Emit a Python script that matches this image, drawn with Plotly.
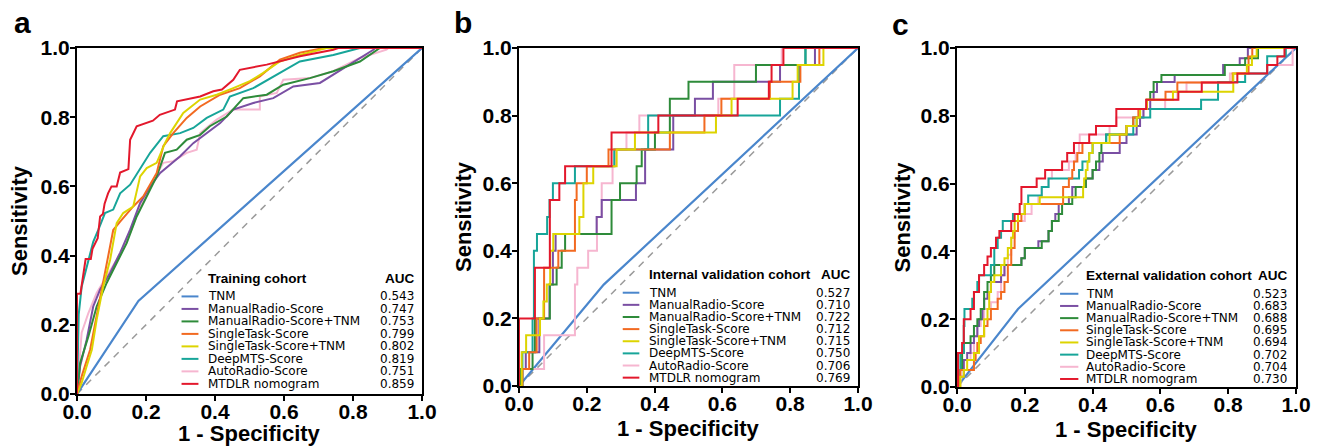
import plotly.graph_objects as go

# ---------------- data ----------------
models = ["TNM", "ManualRadio-Score", "ManualRadio-Score+TNM", "SingleTask-Score",
          "SingleTask-Score+TNM", "DeepMTS-Score", "AutoRadio-Score", "MTDLR nomogram"]
colors = ["#4a86cc", "#7a4fa3", "#2e8b3a", "#f26a21", "#ddd400", "#17a599", "#f6b6d0", "#e3182c"]

cohort_titles = ["Training cohort", "Internal validation cohort", "External validation cohort"]
panel_letters = ["a", "b", "c"]
auc_train = ["0.543", "0.747", "0.753", "0.799", "0.802", "0.819", "0.751", "0.859"]
auc_internal = ["0.527", "0.710", "0.722", "0.712", "0.715", "0.750", "0.706", "0.769"]
auc_external = ["0.523", "0.683", "0.688", "0.695", "0.694", "0.702", "0.704", "0.730"]
tick_vals = [0.0, 0.2, 0.4, 0.6, 0.8, 1.0]
tick_text = ["0.0", "0.2", "0.4", "0.6", "0.8", "1.0"]

# ---- training cohort (fpr, tpr) ----
a_tnm = [(0, 0), (0.178, 0.269), (1, 1)]
a_manual = [(0, 0), (0.009, 0.08), (0.028, 0.157), (0.047, 0.253), (0.067, 0.302), (0.096, 0.35),
            (0.125, 0.408), (0.154, 0.475), (0.183, 0.552), (0.212, 0.6), (0.241, 0.639), (0.27, 0.663),
            (0.299, 0.687), (0.337, 0.725), (0.376, 0.754), (0.415, 0.783), (0.453, 0.822), (0.511, 0.841),
            (0.569, 0.855), (0.627, 0.889), (0.704, 0.899), (0.743, 0.923), (0.801, 0.957), (0.859, 0.995),
            (0.864, 1.0), (1, 1)]
a_manual_tnm = [(0, 0), (0.009, 0.09), (0.033, 0.166), (0.057, 0.253), (0.086, 0.321), (0.115, 0.379),
                (0.144, 0.436), (0.173, 0.513), (0.202, 0.571), (0.231, 0.629), (0.255, 0.697), (0.289, 0.706),
                (0.318, 0.735), (0.357, 0.749), (0.385, 0.774), (0.434, 0.802), (0.482, 0.855), (0.55, 0.865),
                (0.598, 0.894), (0.675, 0.913), (0.743, 0.933), (0.82, 0.961), (0.878, 1.0), (1, 1)]
a_single = [(0, 0), (0.0135, 0.051), (0.038, 0.128), (0.067, 0.273), (0.086, 0.378), (0.105, 0.474),
            (0.125, 0.498), (0.163, 0.542), (0.192, 0.571), (0.231, 0.639), (0.25, 0.716), (0.279, 0.754),
            (0.318, 0.798), (0.357, 0.831), (0.415, 0.865), (0.472, 0.884), (0.53, 0.918), (0.588, 0.966),
            (0.646, 0.986), (0.714, 1.0), (1, 1)]
a_single_tnm = [(0, 0), (0.0135, 0.032), (0.028, 0.08), (0.043, 0.128), (0.057, 0.215), (0.076, 0.311),
                (0.096, 0.388), (0.115, 0.494), (0.134, 0.523), (0.163, 0.542), (0.183, 0.629), (0.202, 0.653),
                (0.231, 0.668), (0.255, 0.725), (0.27, 0.754), (0.308, 0.812), (0.357, 0.851), (0.405, 0.865),
                (0.453, 0.884), (0.501, 0.904), (0.54, 0.928), (0.588, 0.961), (0.646, 0.98), (0.724, 1.0), (1, 1)]
a_deepmts = [(0, 0), (0.005, 0.23), (0.0135, 0.31), (0.033, 0.39), (0.047, 0.44), (0.062, 0.475),
             (0.081, 0.523), (0.105, 0.533), (0.125, 0.58), (0.154, 0.605), (0.183, 0.653), (0.212, 0.697),
             (0.25, 0.745), (0.299, 0.754), (0.337, 0.769), (0.376, 0.798), (0.424, 0.822), (0.443, 0.86),
             (0.511, 0.884), (0.569, 0.918), (0.646, 0.961), (0.743, 0.98), (0.82, 1.0), (1, 1)]
a_auto = [(0, 0), (0.004, 0.06), (0.0135, 0.177), (0.033, 0.234), (0.057, 0.292), (0.086, 0.34),
          (0.115, 0.388), (0.154, 0.465), (0.183, 0.542), (0.212, 0.6), (0.25, 0.668), (0.279, 0.673),
          (0.318, 0.697), (0.347, 0.706), (0.357, 0.754), (0.405, 0.793), (0.453, 0.822), (0.53, 0.822),
          (0.53, 0.86), (0.579, 0.87), (0.598, 0.908), (0.675, 0.913), (0.743, 0.933), (0.82, 0.971),
          (0.897, 0.995), (0.902, 1.0), (1, 1)]
a_mtdlr = [(0, 0), (0, 0.29), (0.01, 0.29), (0.02, 0.35), (0.025, 0.39), (0.04, 0.39), (0.045, 0.42),
           (0.06, 0.45), (0.067, 0.513), (0.075, 0.52), (0.08, 0.55), (0.09, 0.58), (0.1, 0.6), (0.115, 0.6),
           (0.12, 0.62), (0.125, 0.64), (0.149, 0.65), (0.154, 0.735), (0.173, 0.774), (0.19, 0.78),
           (0.22, 0.79), (0.24, 0.807), (0.284, 0.822), (0.29, 0.846), (0.357, 0.86), (0.395, 0.875),
           (0.42, 0.88), (0.453, 0.908), (0.472, 0.937), (0.55, 0.952), (0.646, 0.976), (0.743, 0.995),
           (0.757, 1.0), (1, 1)]

# ---- internal validation cohort (step points: fpr where tpr rises, new tpr) ----
b_tnm = [(0, 0), (0.25, 0.3), (1, 1)]
b_manual = [(0, 0), (0.01, 0.05), (0.02, 0.1), (0.06, 0.2), (0.09, 0.3), (0.1, 0.4), (0.108, 0.45),
            (0.229, 0.5), (0.244, 0.55), (0.345, 0.6), (0.372, 0.7), (0.455, 0.8), (0.519, 0.85),
            (0.572, 0.9), (0.77, 0.95), (0.873, 1.0), (1, 1)]
b_manual_tnm = [(0, 0), (0.005, 0.05), (0.04, 0.1), (0.047, 0.2), (0.091, 0.3), (0.111, 0.35),
                (0.126, 0.4), (0.136, 0.45), (0.273, 0.55), (0.298, 0.6), (0.347, 0.65), (0.362, 0.7),
                (0.401, 0.75), (0.445, 0.85), (0.5, 0.9), (0.699, 0.95), (0.845, 1.0), (1, 1)]
b_single = [(0, 0), (0.01, 0.05), (0.03, 0.1), (0.052, 0.2), (0.074, 0.35), (0.116, 0.4), (0.165, 0.55),
            (0.17, 0.6), (0.2, 0.65), (0.264, 0.7), (0.445, 0.75), (0.547, 0.8), (0.597, 0.85),
            (0.74, 0.9), (0.83, 0.95), (0.886, 1.0), (1, 1)]
b_single_tnm = [(0, 0), (0.008, 0.1), (0.021, 0.15), (0.062, 0.2), (0.072, 0.25), (0.082, 0.3),
                (0.092, 0.4), (0.101, 0.45), (0.178, 0.5), (0.19, 0.6), (0.219, 0.65), (0.288, 0.7),
                (0.342, 0.75), (0.581, 0.8), (0.627, 0.85), (0.807, 0.9), (0.822, 0.95), (0.898, 1.0), (1, 1)]
b_deepmts = [(0, 0), (0.01, 0.1), (0.04, 0.2), (0.044, 0.4), (0.053, 0.45), (0.083, 0.5), (0.09, 0.55),
             (0.1, 0.6), (0.165, 0.65), (0.281, 0.7), (0.381, 0.8), (0.77, 0.85), (0.826, 0.95),
             (0.845, 1.0), (1, 1)]
b_auto = [(0, 0), (0.008, 0.05), (0.074, 0.15), (0.165, 0.3), (0.172, 0.35), (0.204, 0.4), (0.23, 0.5),
          (0.244, 0.6), (0.276, 0.65), (0.283, 0.7), (0.317, 0.75), (0.355, 0.8), (0.588, 0.85),
          (0.635, 0.95), (0.775, 1.0), (1, 1)]
b_mtdlr = [(0, 0), (0, 0.2), (0.047, 0.35), (0.091, 0.55), (0.119, 0.6), (0.136, 0.65), (0.273, 0.75),
           (0.411, 0.8), (0.645, 0.85), (0.737, 0.9), (0.745, 0.95), (0.78, 1.0), (1, 1)]

# ---- external validation cohort (step points) ----
c_tnm = [(0, 0), (0.18, 0.23), (1, 1)]
c_manual = [(0, 0), (0.005, 0.03), (0.02, 0.08), (0.03, 0.1), (0.04, 0.13), (0.05, 0.15), (0.06, 0.18),
            (0.065, 0.2), (0.075, 0.23), (0.08, 0.26), (0.09, 0.28), (0.1, 0.31), (0.13, 0.33), (0.14, 0.36),
            (0.19, 0.38), (0.2, 0.41), (0.24, 0.43), (0.27, 0.46), (0.28, 0.49), (0.29, 0.51), (0.3, 0.54),
            (0.33, 0.56), (0.34, 0.59), (0.38, 0.615), (0.4, 0.64), (0.42, 0.665), (0.43, 0.69),
            (0.48, 0.72), (0.5, 0.745), (0.53, 0.77), (0.54, 0.795), (0.55, 0.82), (0.57, 0.847),
            (0.58, 0.87), (0.59, 0.9), (0.642, 0.92), (0.785, 0.95), (0.834, 0.97), (0.858, 1.0), (1, 1)]
c_manual_tnm = [(0, 0), (0.005, 0.05), (0.015, 0.1), (0.02, 0.13), (0.04, 0.15), (0.05, 0.18), (0.06, 0.2),
                (0.07, 0.23), (0.08, 0.28), (0.09, 0.31), (0.1, 0.33), (0.11, 0.36), (0.19, 0.38),
                (0.2, 0.41), (0.25, 0.43), (0.27, 0.46), (0.28, 0.49), (0.3, 0.51), (0.31, 0.54),
                (0.34, 0.56), (0.35, 0.59), (0.38, 0.615), (0.4, 0.64), (0.41, 0.665), (0.42, 0.69),
                (0.426, 0.72), (0.44, 0.745), (0.5, 0.77), (0.52, 0.795), (0.54, 0.82), (0.56, 0.847),
                (0.57, 0.87), (0.58, 0.9), (0.603, 0.92), (0.79, 0.95), (0.85, 0.97), (0.888, 1.0), (1, 1)]
c_single = [(0, 0), (0.005, 0.03), (0.01, 0.05), (0.05, 0.08), (0.055, 0.1), (0.06, 0.13), (0.07, 0.15),
            (0.08, 0.18), (0.09, 0.2), (0.1, 0.23), (0.12, 0.26), (0.13, 0.28), (0.14, 0.31), (0.15, 0.36),
            (0.16, 0.41), (0.17, 0.46), (0.18, 0.49), (0.19, 0.51), (0.2, 0.54), (0.313, 0.59),
            (0.33, 0.615), (0.34, 0.64), (0.345, 0.665), (0.355, 0.69), (0.37, 0.72), (0.48, 0.745),
            (0.5, 0.77), (0.52, 0.795), (0.535, 0.82), (0.56, 0.847), (0.615, 0.871), (0.65, 0.898),
            (0.813, 0.925), (0.86, 0.975), (0.871, 1.0), (1, 1)]
c_single_tnm = [(0, 0), (0.01, 0.03), (0.02, 0.05), (0.03, 0.08), (0.05, 0.1), (0.065, 0.15), (0.08, 0.2),
                (0.09, 0.23), (0.095, 0.28), (0.1, 0.31), (0.11, 0.33), (0.13, 0.36), (0.14, 0.38),
                (0.15, 0.41), (0.16, 0.44), (0.165, 0.46), (0.17, 0.49), (0.18, 0.51), (0.2, 0.54),
                (0.244, 0.56), (0.372, 0.59), (0.375, 0.615), (0.38, 0.64), (0.385, 0.665), (0.39, 0.69),
                (0.4, 0.72), (0.45, 0.745), (0.5, 0.77), (0.53, 0.795), (0.54, 0.82), (0.56, 0.847),
                (0.637, 0.871), (0.815, 0.925), (0.855, 0.95), (0.87, 0.976), (0.884, 1.0), (1, 1)]
c_deepmts = [(0, 0), (0.005, 0.05), (0.01, 0.1), (0.02, 0.18), (0.022, 0.23), (0.045, 0.26), (0.05, 0.28),
             (0.06, 0.31), (0.065, 0.33), (0.1, 0.36), (0.11, 0.41), (0.12, 0.44), (0.13, 0.46),
             (0.135, 0.49), (0.165, 0.51), (0.2, 0.54), (0.21, 0.565), (0.25, 0.59), (0.27, 0.615),
             (0.36, 0.64), (0.37, 0.665), (0.39, 0.69), (0.4, 0.72), (0.44, 0.745), (0.52, 0.77),
             (0.53, 0.795), (0.57, 0.82), (0.72, 0.847), (0.77, 0.9), (0.85, 0.925), (0.915, 0.976),
             (0.97, 1.0), (1, 1)]
c_auto = [(0, 0), (0.01, 0.05), (0.02, 0.08), (0.04, 0.1), (0.05, 0.15), (0.06, 0.18), (0.07, 0.2),
          (0.08, 0.23), (0.1, 0.25), (0.12, 0.28), (0.13, 0.33), (0.14, 0.36), (0.15, 0.39), (0.16, 0.44),
          (0.17, 0.46), (0.18, 0.49), (0.2, 0.51), (0.22, 0.54), (0.24, 0.56), (0.25, 0.59),
          (0.27, 0.615), (0.28, 0.64), (0.33, 0.665), (0.35, 0.69), (0.36, 0.72), (0.362, 0.745),
          (0.45, 0.77), (0.47, 0.795), (0.55, 0.82), (0.614, 0.847), (0.65, 0.871), (0.677, 0.898),
          (0.805, 0.925), (0.915, 0.95), (0.99, 1.0), (1, 1)]
c_mtdlr = [(0, 0), (0.003, 0.1), (0.015, 0.13), (0.02, 0.2), (0.04, 0.23), (0.05, 0.28), (0.065, 0.33),
           (0.08, 0.36), (0.09, 0.385), (0.1, 0.41), (0.115, 0.44), (0.125, 0.46), (0.16, 0.49),
           (0.17, 0.51), (0.185, 0.54), (0.19, 0.59), (0.235, 0.615), (0.26, 0.64), (0.31, 0.665),
           (0.325, 0.69), (0.345, 0.72), (0.39, 0.745), (0.41, 0.77), (0.47, 0.82), (0.558, 0.847),
           (0.653, 0.871), (0.722, 0.898), (0.827, 0.925), (0.915, 0.95), (0.945, 0.975), (0.966, 1.0), (1, 1)]

panels = [
    ([a_tnm, a_manual, a_manual_tnm, a_single, a_single_tnm, a_deepmts, a_auto, a_mtdlr], auc_train, "linear"),
    ([b_tnm, b_manual, b_manual_tnm, b_single, b_single_tnm, b_deepmts, b_auto, b_mtdlr], auc_internal, "hv"),
    ([c_tnm, c_manual, c_manual_tnm, c_single, c_single_tnm, c_deepmts, c_auto, c_mtdlr], auc_external, "hv"),
]

# ---------------- layout geometry (screen pixels of the 1322x448 window) ----------------
W, H = 1322, 448


def px(xp):
    return xp / W


def py(yp):
    return 1 - yp / H


plot_boxes = [(77, 422, 48, 394), (519, 858, 48, 386), (957, 1296, 48, 387)]  # x0,x1,ytop,ybottom
letter_pos = [(22, 23), (463, 22), (900, 24)]
ytitle_x = [19, 463, 902]
xtitle_y = [433, 428, 429]
legend_geo = [  # header y, first entry y, step, line x0, line x1, text x, right x
    (0.335, 0.282, 0.0361, 0.303, 0.352, 0.375, 0.983),
    (0.331, 0.276, 0.0359, 0.306, 0.355, 0.377, 0.983),
    (0.329, 0.275, 0.0359, 0.304, 0.358, 0.375, 0.980),
]

fig = go.Figure()
FONT = "Liberation Sans, Arial, sans-serif"
LFONT = "DejaVu Sans, sans-serif"
annotations = []
shapes = []

for p, (curves, aucs, shape) in enumerate(panels):
    sfx = "" if p == 0 else str(p + 1)
    xa, ya = "x" + sfx, "y" + sfx
    # reference diagonal
    fig.add_trace(go.Scatter(x=[0, 1], y=[0, 1], mode="lines", xaxis=xa, yaxis=ya,
                             line=dict(color="#9a9a9a", width=1.5, dash="7px,6px"), hoverinfo="skip"))
    order = [0, 6, 1, 2, 5, 3, 4, 7]
    for i in order:
        pts = curves[i]
        fig.add_trace(go.Scatter(
            x=[q[0] for q in pts], y=[q[1] for q in pts], mode="lines", name=models[i],
            xaxis=xa, yaxis=ya,
            line=dict(color=colors[i], width=2.2 if i == 0 else 2,
                      shape="linear" if i == 0 else shape)))
    x0, x1, yt, yb = plot_boxes[p]
    dom_x = [px(x0), px(x1)]
    dom_y = [py(yb), py(yt)]
    axis_common = dict(range=[0, 1], showline=True, linewidth=2.2, linecolor="black", mirror=True,
                       ticks="outside", ticklen=5, tickwidth=2, tickcolor="black", automargin=False,
                       tickvals=tick_vals, ticktext=tick_text, showgrid=False, zeroline=False,
                       tickfont=dict(family=FONT, size=21, color="black", weight="bold"))
    fig.layout["xaxis" + sfx] = dict(domain=dom_x, anchor=ya, ticklabelstandoff=-7, **axis_common)
    fig.layout["yaxis" + sfx] = dict(domain=dom_y, anchor=xa, ticklabelstandoff=-4, **axis_common)

    # axis titles
    annotations.append(dict(text="<b>1 - Specificity</b>", xref="paper", yref="paper",
                            x=px((x0 + x1) / 2), y=py(xtitle_y[p]), xanchor="center", yanchor="middle",
                            showarrow=False, font=dict(family=FONT, size=22, color="black")))
    annotations.append(dict(text="<b>Sensitivity</b>", xref="paper", yref="paper",
                            x=px(ytitle_x[p]), y=py((yt + yb) / 2), xanchor="center", yanchor="middle",
                            textangle=-90, showarrow=False, font=dict(family=FONT, size=22, color="black")))
    lx, ly = letter_pos[p]
    annotations.append(dict(text="<b>%s</b>" % panel_letters[p], xref="paper", yref="paper",
                            x=px(lx), y=py(ly), xanchor="center", yanchor="middle",
                            showarrow=False, font=dict(family=FONT, size=30, color="black")))

    # legend block
    hy, ey, st, lx0, lx1, tx, rx = legend_geo[p]
    annotations.append(dict(text="<b>%s</b>" % cohort_titles[p], xref=xa, yref=ya, x=tx, y=hy,
                            xanchor="left", yanchor="middle", showarrow=False,
                            font=dict(family=FONT, size=13.5, color="black")))
    annotations.append(dict(text="<b>AUC</b>", xref=xa, yref=ya, x=rx, y=hy,
                            xanchor="right", yanchor="middle", showarrow=False,
                            font=dict(family=FONT, size=13.5, color="black")))
    for i in range(8):
        yy = ey - i * st
        shapes.append(dict(type="line", xref=xa, yref=ya, x0=lx0, x1=lx1, y0=yy, y1=yy,
                           line=dict(color=colors[i], width=2)))
        annotations.append(dict(text=models[i], xref=xa, yref=ya, x=tx, y=yy, xanchor="left",
                                yanchor="middle", showarrow=False,
                                font=dict(family=LFONT, size=12, color="black")))
        annotations.append(dict(text=aucs[i], xref=xa, yref=ya, x=rx, y=yy, xanchor="right",
                                yanchor="middle", showarrow=False,
                                font=dict(family=LFONT, size=12, color="black")))

fig.update_layout(width=W, height=H, autosize=False,
                  margin=dict(l=0, r=0, t=0, b=0, pad=0, autoexpand=False),
                  plot_bgcolor="white", paper_bgcolor="white", showlegend=False,
                  annotations=annotations, shapes=shapes,
                  font=dict(family=FONT, color="black"))
# remove the page's default 8px body margin so the figure fills the window exactly
fig.write_html("out.html", config={"displayModeBar": False},
               post_script="document.body.style.margin='0px';")
